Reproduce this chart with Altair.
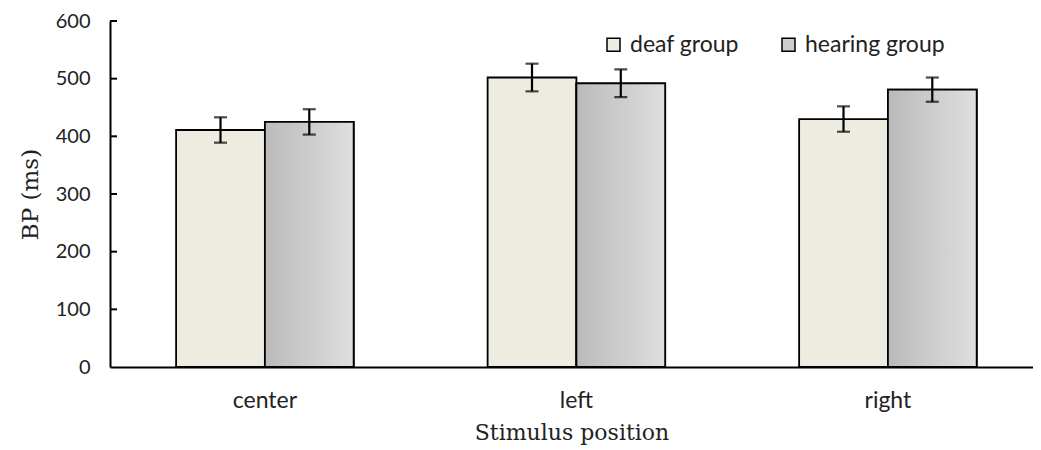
import altair as alt
import pandas as pd

positions = ["center", "left", "right"]
groups = ["deaf group", "hearing group"]
deaf_mean = [411, 502, 430]
hearing_mean = [425, 492, 481]
deaf_err = [22, 24, 22]
hearing_err = [22, 24, 21]
y_ticks = [100, 200, 300, 400, 500, 600]

rows = []
for i, p in enumerate(positions):
    rows.append({"pos": p, "group": groups[0], "mean": deaf_mean[i],
                 "lo": deaf_mean[i] - deaf_err[i], "hi": deaf_mean[i] + deaf_err[i]})
    rows.append({"pos": p, "group": groups[1], "mean": hearing_mean[i],
                 "lo": hearing_mean[i] - hearing_err[i], "hi": hearing_mean[i] + hearing_err[i]})
df = pd.DataFrame(rows)
ticks_df = pd.DataFrame({"v": y_ticks})

sans = "Lato"
serif = "DejaVu Serif"
txt = "#222222"

x_enc = alt.X("pos:N", sort=positions,
              scale=alt.Scale(paddingInner=0.43, paddingOuter=0.1965, align=0.54),
              axis=alt.Axis(title="Stimulus position", labelAngle=0, ticks=False,
                            domainColor="black", domainWidth=2,
                            labelFont=sans, labelFontSize=23, labelColor=txt,
                            labelPadding=22, titleFont=serif, titleFontSize=22,
                            titleFontWeight="normal", titleColor=txt, titlePadding=10))
xoff = alt.XOffset("group:N", sort=groups, scale=alt.Scale(paddingInner=0, paddingOuter=0))
y_scale = alt.Scale(domain=[0, 600], nice=False)

base = alt.Chart(df)

bars = base.mark_bar(stroke="black", strokeWidth=1.8).encode(
    x=x_enc,
    xOffset=xoff,
    y=alt.Y("mean:Q", scale=y_scale,
            axis=alt.Axis(title="BP (ms)", values=[0] + y_ticks, ticks=False, grid=False,
                          domainColor="black", domainWidth=2,
                          labelFont=sans, labelFontSize=20, labelColor=txt,
                          labelPadding=20, titleFont=serif, titleFontSize=23,
                          titleFontWeight="normal", titleColor=txt, titlePadding=13)),
    color=alt.Color("group:N", sort=groups,
                    scale=alt.Scale(domain=groups, range=["#EEEBE0", "#CDCDCD"]),
                    legend=alt.Legend(title=None, orient="none", direction="horizontal",
                                      legendX=492, legendY=12, padding=0,
                                      symbolType="square", symbolSize=169,
                                      symbolStrokeColor="black", symbolStrokeWidth=1.5,
                                      labelFont=sans, labelFontSize=23, labelColor=txt,
                                      labelOffset=5, columnPadding=38)),
)

grad = alt.LinearGradient(gradient="linear", x1=0, y1=0, x2=1, y2=0,
                          stops=[alt.GradientStop(color="#BABABA", offset=0),
                                 alt.GradientStop(color="#DFDFDF", offset=1)])
overlay = base.transform_filter(alt.datum.group == "hearing group").mark_bar(
    stroke="black", strokeWidth=1.8, fill=grad).encode(
    x=alt.X("pos:N", sort=positions),
    xOffset=xoff,
    y=alt.Y("mean:Q", scale=y_scale),
)

rules = base.mark_rule(color="black", strokeWidth=2.2).encode(
    x=alt.X("pos:N", sort=positions), xOffset=xoff,
    y=alt.Y("lo:Q", scale=y_scale), y2="hi:Q")
cap_lo = base.mark_tick(color="black", size=13, thickness=2.2).encode(
    x=alt.X("pos:N", sort=positions), xOffset=xoff, y=alt.Y("lo:Q", scale=y_scale))
cap_hi = base.mark_tick(color="black", size=13, thickness=2.2).encode(
    x=alt.X("pos:N", sort=positions), xOffset=xoff, y=alt.Y("hi:Q", scale=y_scale))

yticks = alt.Chart(ticks_df).mark_rule(color="black", strokeWidth=2).encode(
    y=alt.Y("v:Q", scale=y_scale), x=alt.value(0), x2=alt.value(7))

chart = alt.layer(bars, overlay, rules, cap_lo, cap_hi, yticks).properties(
    width=923, height=346,
    background="white",
    autosize=alt.AutoSizeParams(type="none"),
    padding={"left": 102, "top": 13, "right": 0, "bottom": 80},
).configure_view(stroke="transparent", strokeWidth=0).configure_axis(grid=False)

chart.save("out.html", embed_options={"renderer": "svg", "actions": False})
